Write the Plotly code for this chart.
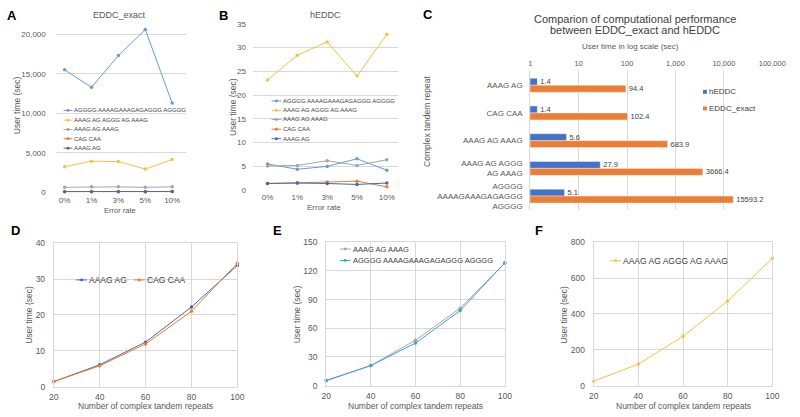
import plotly.graph_objects as go

W, H = 800, 417

# ---------------- data ----------------
error_rates = ["0%", "1%", "3%", "5%", "10%"]
repeat_names = ["AGGGG AAAAGAAAGAGAGGG AGGGG", "AAAG AG AGGG AG AAAG",
                "AAAG AG AAAG", "CAG CAA", "AAAG AG"]

# Panel A: EDDC_exact user time (sec)
a_agggg = [15500, 13300, 17300, 20600, 11300]
a_aaagagagggagaaag = [3250, 3950, 3900, 2950, 4150]
a_aaagagaaag = [650, 700, 700, 640, 700]
a_cagcaa = [100, 105, 100, 95, 110]
a_aaagag = [95, 95, 90, 90, 100]

# Panel B: hEDDC user time (sec)
b_agggg = [5.5, 4.4, 5.0, 6.6, 4.2]
b_aaagagagggagaaag = [23.2, 28.4, 31.2, 24.0, 32.8]
b_aaagagaaag = [5.1, 5.2, 6.2, 5.2, 6.4]
b_cagcaa = [1.4, 1.5, 1.7, 1.9, 0.7]
b_aaagag = [1.4, 1.5, 1.4, 1.2, 1.5]

# Panel C: comparison (log scale)
c_categories = ["AAAG AG", "CAG CAA", "AAAG AG AAAG",
                "AAAG AG AGGG<br>AG AAAG", "AGGGG<br>AAAAGAAAGAGAGGG<br>AGGGG"]
c_hEDDC = [1.4, 1.4, 5.6, 27.9, 5.1]
c_EDDC_exact = [94.4, 102.4, 683.9, 3666.4, 15593.2]
c_ticks = [1, 10, 100, 1000, 10000, 100000]
c_ticktext = ["1", "10", "100", "1,000", "10,000", "100,000"]

# Panels D-F: scaling with number of repeats
n_repeats = [20, 40, 60, 80, 100]
d_aaagag = [1.4, 6.1, 12.4, 22.2, 33.8]
d_cagcaa = [1.4, 5.8, 11.9, 21.0, 34.4]
e_aaagagaaag = [5.6, 21.0, 47.5, 81.0, 128.0]
e_agggg = [5.1, 21.0, 44.5, 78.5, 128.5]
f_aaagagagggagaaag = [25, 120, 275, 472, 710]

# ---------------- styles ----------------
FONT = "Liberation Sans, Arial, sans-serif"
TXT = "#595959"
GRID = "#d9d9d9"
C_LBLUE = "#6b9bd1"
C_YEL = "#f5c242"
C_GRAY = "#a5a5a5"
C_ORG = "#ed7d31"
C_DBLUE = "#4468b0"
C_TEAL = "#3ea5c8"
C_BAR_B = "#4472c4"
C_BAR_O = "#ed7d31"


def px(x):
    return x / W


def py(y):
    return 1 - y / H


fig = go.Figure()


def line_trace(x, y, color, name, xa, ya):
    fig.add_trace(go.Scatter(
        x=x, y=y, name=name, mode="lines+markers",
        line=dict(color=color, width=1),
        marker=dict(color=color, size=3.5),
        xaxis=xa, yaxis=ya, showlegend=False, cliponaxis=False))


# Panel A
for vals, col, nm in [(a_agggg, C_LBLUE, repeat_names[0]),
                      (a_aaagagagggagaaag, C_YEL, repeat_names[1]),
                      (a_aaagagaaag, C_GRAY, repeat_names[2]),
                      (a_cagcaa, C_ORG, repeat_names[3]),
                      (a_aaagag, C_DBLUE, repeat_names[4])]:
    line_trace(error_rates, vals, col, nm, "x", "y")

# Panel B
for vals, col, nm in [(b_agggg, C_LBLUE, repeat_names[0]),
                      (b_aaagagagggagaaag, C_YEL, repeat_names[1]),
                      (b_aaagagaaag, C_GRAY, repeat_names[2]),
                      (b_cagcaa, C_ORG, repeat_names[3]),
                      (b_aaagag, C_DBLUE, repeat_names[4])]:
    line_trace(error_rates, vals, col, nm, "x2", "y2")

# Panel C bars
fig.add_trace(go.Bar(
    y=c_categories, x=c_hEDDC, orientation="h", name="hEDDC",
    marker=dict(color=C_BAR_B), text=[str(v) for v in c_hEDDC],
    textposition="outside", constraintext="none", cliponaxis=False,
    textfont=dict(size=7.5, color="#404040"),
    xaxis="x3", yaxis="y3", showlegend=False))
fig.add_trace(go.Bar(
    y=c_categories, x=c_EDDC_exact, orientation="h", name="EDDC_exact",
    marker=dict(color=C_BAR_O), text=[str(v) for v in c_EDDC_exact],
    textposition="outside", constraintext="none", cliponaxis=False,
    textfont=dict(size=7.5, color="#404040"),
    xaxis="x3", yaxis="y3", showlegend=False))

# Panel D
line_trace(n_repeats, d_aaagag, C_DBLUE, "AAAG AG", "x4", "y4")
line_trace(n_repeats, d_cagcaa, C_ORG, "CAG CAA", "x4", "y4")
# Panel E
line_trace(n_repeats, e_aaagagaaag, C_GRAY, "AAAG AG AAAG", "x5", "y5")
line_trace(n_repeats, e_agggg, C_TEAL, repeat_names[0], "x5", "y5")
# Panel F
line_trace(n_repeats, f_aaagagagggagaaag, C_YEL, "AAAG AG AGGG AG AAAG", "x6", "y6")

tickfont8 = dict(size=8, color=TXT, family=FONT)

layout = dict(
    width=W, height=H, margin=dict(l=0, r=0, t=0, b=0),
    paper_bgcolor="white", plot_bgcolor="white",
    font=dict(family=FONT, color=TXT),
    bargap=0.5, bargroupgap=0, barmode="group",
    showlegend=False,
)

# Panel A axes
layout["xaxis"] = dict(domain=[px(52), px(185)], anchor="y", type="category",
                       range=[-0.33, 4.5], showgrid=False, showline=False,
                       zeroline=False, ticks="", tickfont=tickfont8,
                       ticklabelstandoff=2)
layout["yaxis"] = dict(domain=[py(192), py(21.9)], anchor="x", range=[0, 21000],
                       tickvals=[0, 5000, 10000, 15000, 20000], tickformat=",",
                       showgrid=True, gridcolor=GRID, gridwidth=1, zeroline=False,
                       showline=False, ticks="", tickfont=tickfont8,
                       ticklabelstandoff=9)
# Panel B axes
layout["xaxis2"] = dict(domain=[px(254), px(403)], anchor="y2", type="category",
                        range=[-0.49, 4.39], showgrid=False, showline=False,
                        zeroline=False, ticks="", tickfont=tickfont8,
                        ticklabelstandoff=1)
layout["yaxis2"] = dict(domain=[py(189.7), py(19.3)], anchor="x2", range=[0, 35],
                        tickvals=[0, 5, 10, 15, 20, 25, 30, 35],
                        showgrid=True, gridcolor=GRID, gridwidth=1, zeroline=False,
                        showline=False, ticks="", tickfont=tickfont8,
                        ticklabelstandoff=6)
# Panel C axes
layout["xaxis3"] = dict(domain=[px(538), px(786)], anchor="y3", type="log",
                        range=[0, 5], side="top", tickvals=c_ticks,
                        ticktext=c_ticktext, showgrid=True, gridcolor=GRID,
                        zeroline=False, showline=False, ticks="",
                        tickfont=dict(size=7.5, color=TXT, family=FONT),
                        ticklabelstandoff=3)
layout["yaxis3"] = dict(domain=[py(210), py(68)], anchor="x3", type="category",
                        categoryorder="array", categoryarray=c_categories,
                        range=[4.5, -0.5], showgrid=False, zeroline=False,
                        showline=True, linecolor=GRID, ticks="",
                        tickfont=tickfont8, ticklabelstandoff=5)


def box_axes(xdom, ydom, yr, ydt, ya, xa):
    xd = dict(domain=xdom, anchor=ya, range=[20, 100], tickvals=n_repeats,
              showgrid=True, gridcolor=GRID, zeroline=False, showline=True,
              mirror=True, linecolor=GRID, ticks="",
              tickfont=dict(size=8.5, color=TXT, family=FONT),
              ticklabelstandoff=2)
    yd = dict(domain=ydom, anchor=xa, range=yr, dtick=ydt,
              showgrid=True, gridcolor=GRID, zeroline=False, showline=True,
              mirror=True, linecolor=GRID, ticks="",
              tickfont=dict(size=8.5, color=TXT, family=FONT),
              ticklabelstandoff=6)
    return xd, yd


layout["xaxis4"], layout["yaxis4"] = box_axes([px(50), px(238)], [py(391), py(244)], [0, 40], 10, "y4", "x4")
layout["xaxis5"], layout["yaxis5"] = box_axes([px(329), px(512)], [py(390), py(243)], [0, 150], 30, "y5", "x5")
layout["xaxis6"], layout["yaxis6"] = box_axes([px(603), px(786)], [py(390), py(243)], [0, 800], 200, "y6", "x6")

fig.update_layout(**layout)

shapes = []
annotations = []


def ann(text, x, y, size, color=TXT, bold=False, angle=0, xanchor="center"):
    annotations.append(dict(
        text=("<b>%s</b>" % text) if bold else text, x=px(x), y=py(y),
        xref="paper", yref="paper", xanchor=xanchor, yanchor="middle",
        showarrow=False, textangle=angle, borderpad=0,
        font=dict(size=size, color=color, family=FONT)))


def leg_line(x0, x1, y, color, text, size):
    shapes.append(dict(type="line", xref="paper", yref="paper",
                       x0=px(x0), x1=px(x1), y0=py(y), y1=py(y),
                       line=dict(color=color, width=1)))
    cx, r = (x0 + x1) / 2, 1.5
    shapes.append(dict(type="circle", xref="paper", yref="paper",
                       x0=px(cx - r), x1=px(cx + r), y0=py(y + r), y1=py(y - r),
                       fillcolor=color, line=dict(width=0)))
    ann(text, x1 + 1, y, size, color="#404040", xanchor="left")


def leg_square(x, y, color, text, size):
    r = 2
    shapes.append(dict(type="rect", xref="paper", yref="paper",
                       x0=px(x - r), x1=px(x + r), y0=py(y + r), y1=py(y - r),
                       fillcolor=color, line=dict(width=0)))
    ann(text, x + r + 1, y, size, color="#404040", xanchor="left")


# Panel labels
for lab, x, y in [("A", 7, 11), ("B", 224, 11), ("C", 433, 10),
                  ("D", 11, 231), ("E", 279, 231), ("F", 547, 231)]:
    ann(lab, x, y, 13, color="black", bold=True)

# Titles
ann("EDDC_exact", 117, 10, 9)
ann("hEDDC", 328, 10, 9)
ann("Comparion of computational performance", 645, 14, 11, color="#404040")
ann("between EDDC_exact and hEDDC", 645, 25.5, 11, color="#404040")
ann("User time in log scale (sec)", 641, 43, 8)

# Axis titles
ann("Error rate", 118, 211, 7.5)
ann("Error rate", 327, 207, 8)
ann("User time (sec)", 12, 103, 8.5, angle=-90)
ann("User time (sec)", 233, 104, 8.5, angle=-90)
ann("Complex tandem repeat", 432, 119, 8.5, angle=-90)
for cx in (144, 420, 695):
    ann("Number of complex tandem repeats", cx, 411, 8.5)
for x in (25, 300, 573):
    ann("User time (sec)", x, 317, 8.5, angle=-90)

# Legends A
a_cols = [C_LBLUE, C_YEL, C_GRAY, C_ORG, C_DBLUE]
for i, yy in enumerate([108, 118, 127.5, 137, 146.7]):
    leg_line(60, 69, yy, a_cols[i], repeat_names[i], 6)
# Legends B
for i, yy in enumerate([98.3, 108, 117.3, 127.3, 137]):
    leg_line(273, 283, yy, a_cols[i], repeat_names[i], 6)
# Legend C
leg_square(717, 89, C_BAR_B, "hEDDC", 8)
leg_square(717, 106, C_BAR_O, "EDDC_exact", 8)
# Legend D
leg_line(73, 84, 281.7, C_DBLUE, "AAAG AG", 8.5)
leg_line(132, 143, 281.7, C_ORG, "CAG CAA", 8.5)
# Legend E
leg_line(343, 354, 250, C_GRAY, "AAAG AG AAAG", 7.5)
leg_line(343, 354, 261.7, C_TEAL, repeat_names[0], 7.5)
# Legend F
leg_line(620, 631, 262, C_YEL, "AAAG AG AGGG AG AAAG", 8.5)

fig.update_layout(shapes=shapes, annotations=annotations)
fig.write_html("out.html")
